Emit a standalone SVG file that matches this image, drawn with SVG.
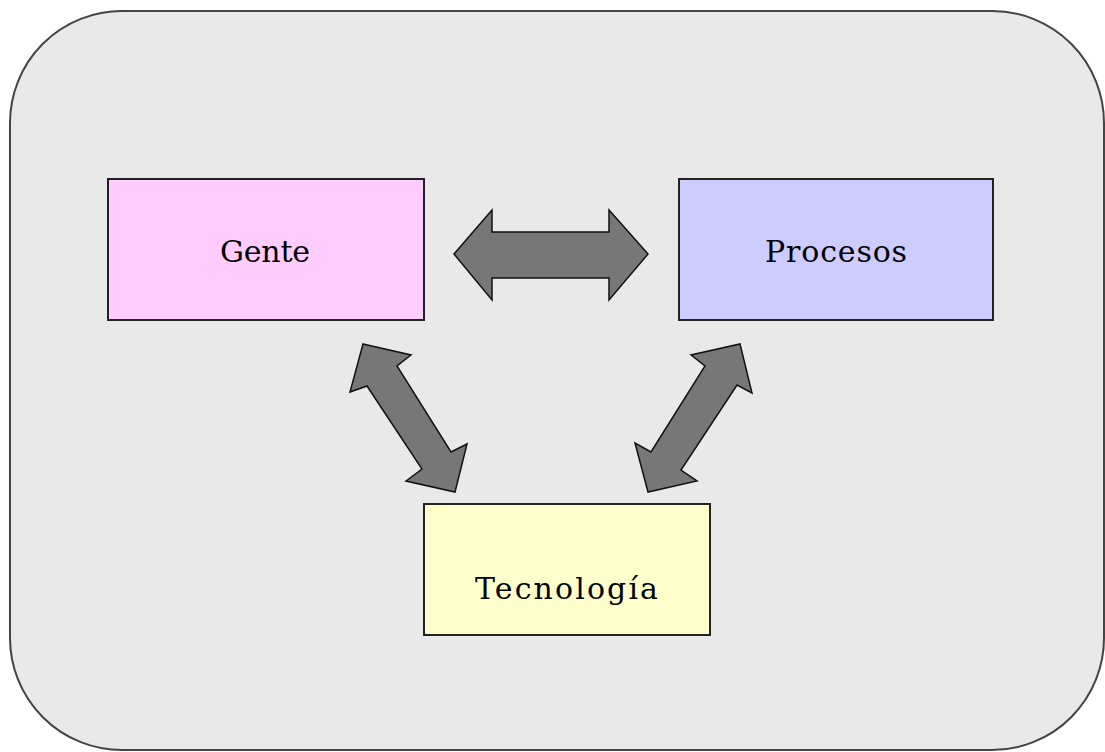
<svg xmlns="http://www.w3.org/2000/svg" width="1105" height="752" viewBox="0 0 1105 752">
<style>
.box{stroke:#222;stroke-width:2}
.lbl{font-family:"DejaVu Serif","Liberation Serif",serif;font-size:30px;fill:#000}
.arr{fill:#777;stroke:#111;stroke-width:1.5;stroke-linejoin:miter}
</style>
<rect x="0" y="0" width="1105" height="752" fill="#fff"/>
<rect id="frame" x="10" y="11" width="1094" height="739" rx="112" ry="112" fill="#e9e9e9" stroke="#444" stroke-width="2"/>
<g id="connectors">
<polygon class="arr" points="454,254 492,210 492,232 609,232 609,210 648,254 609,300 609,278 492,278 492,300"/>
<polygon class="arr" points="363,344 411,355 397,366 451,452 467,444 455,492 406,481 422,469 367,386 350,392"/>
<polygon class="arr" points="740,344 752,393 737,385 681,470 697,481 648,492 635,443 651,452 705,366 691,355"/>
</g>
<g id="gente">
<rect class="box" x="108" y="179" width="316" height="141" fill="#ffccff"/>
<text class="lbl" x="220" y="262" textLength="90" lengthAdjust="spacing">Gente</text>
</g>
<g id="procesos">
<rect class="box" x="679" y="179" width="314" height="141" fill="#ccccff"/>
<text class="lbl" x="765" y="262" textLength="142" lengthAdjust="spacing">Procesos</text>
</g>
<g id="tecnologia">
<rect class="box" x="424" y="504" width="286" height="131" fill="#ffffcc"/>
<text class="lbl" x="475" y="599" textLength="183" lengthAdjust="spacing">Tecnología</text>
</g>
</svg>
